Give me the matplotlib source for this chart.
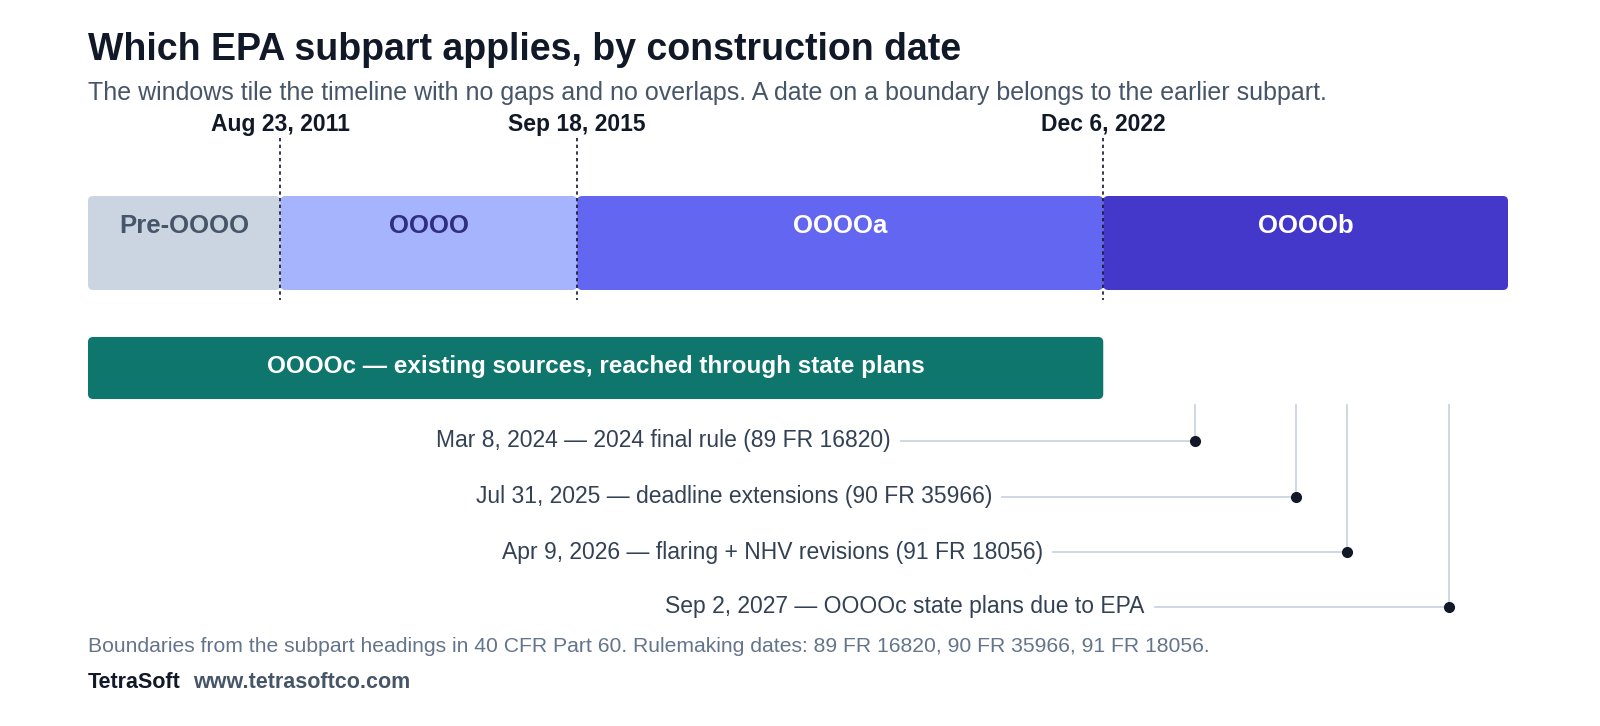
import matplotlib
matplotlib.use("Agg")
import matplotlib.pyplot as plt
import matplotlib.dates as mdates
from matplotlib.patches import FancyBboxPatch
from datetime import date

plt.rcParams['font.family'] = ['Liberation Sans', 'DejaVu Sans']

start = date(2009, 1, 1)
end = date(2028, 6, 25)
boundaries = [date(2011, 8, 23), date(2015, 9, 18), date(2022, 12, 6)]
boundary_labels = ["Aug 23, 2011", "Sep 18, 2015", "Dec 6, 2022"]
subparts = ["Pre-OOOO", "OOOO", "OOOOa", "OOOOb"]
sub_colors = ["#cbd5e1", "#a5b4fc", "#6366f1", "#4338ca"]
sub_text = ["#475569", "#312e81", "white", "white"]
event_dates = [date(2024, 3, 8), date(2025, 7, 31), date(2026, 4, 9), date(2027, 9, 2)]
event_labels = ["Mar 8, 2024 — 2024 final rule (89 FR 16820)",
                "Jul 31, 2025 — deadline extensions (90 FR 35966)",
                "Apr 9, 2026 — flaring + NHV revisions (91 FR 18056)",
                "Sep 2, 2027 — OOOOc state plans due to EPA"]

W, H = 1600, 726
fig = plt.figure(figsize=(16, 7.26), dpi=100)
ax = fig.add_axes([0, 0, 1, 1])
s, e = mdates.date2num(start), mdates.date2num(end)
ppd = (1508 - 88) / (e - s)  # pixels per day
x0 = s - 88 / ppd
ax.set_xlim(x0, x0 + W / ppd)
ax.set_ylim(H, 0)
ax.axis('off')

def box(xa, xb, y0, y1, color):
    r = 5
    ax.add_patch(FancyBboxPatch((xa, y0), xb - xa, y1 - y0,
                 boxstyle=f"round,pad=0,rounding_size={r/ppd}",
                 mutation_aspect=ppd, fc=color, ec='none', lw=0))

edges = [s] + [mdates.date2num(b) for b in boundaries] + [e]
for i, name in enumerate(subparts):
    box(edges[i], edges[i+1], 196, 290, sub_colors[i])
    ax.text((edges[i] + edges[i+1]) / 2, 226, name, ha='center', va='center',
            fontsize=18.5, fontweight='bold', color=sub_text[i])

for b, lab in zip(boundaries, boundary_labels):
    xb = mdates.date2num(b)
    ax.plot([xb, xb], [138, 300], color='#111827', lw=1.2, ls=(0, (2, 2)))
    ax.text(xb, 124, lab, ha='center', va='center', fontsize=16.5,
            fontweight='bold', color='#111827')

box(s, edges[3], 337, 399, "#0f766e")
ax.text((s + edges[3]) / 2, 367, "OOOOc — existing sources, reached through state plans",
        ha='center', va='center', fontsize=17.5, fontweight='bold', color='white')

ys = [441, 497, 552, 607]
for d, lab, y in zip(event_dates, event_labels, ys):
    xd = mdates.date2num(d)
    ax.plot([xd, xd], [405, y], color='#cbd5e1', lw=1.3)
    ax.plot([xd - 294 / ppd, xd], [y, y], color='#cbd5e1', lw=1.3)
    ax.plot([xd], [y], 'o', color='#111827', ms=7)
    ax.text(xd - 304 / ppd, y, lab, ha='right', va='center', fontsize=16.5, color='#334155')

fig.text(88 / W, 1 - 50 / H, "Which EPA subpart applies, by construction date",
         fontsize=27, fontweight='bold', color='#111827', va='center')
fig.text(88 / W, 1 - 93 / H, "The windows tile the timeline with no gaps and no overlaps. "
         "A date on a boundary belongs to the earlier subpart.",
         fontsize=18, color='#475569', va='center')
fig.text(88 / W, 1 - 647 / H, "Boundaries from the subpart headings in 40 CFR Part 60. "
         "Rulemaking dates: 89 FR 16820, 90 FR 35966, 91 FR 18056.",
         fontsize=15.2, color='#64748b', va='center')
fig.text(88 / W, 1 - 683 / H, "TetraSoft", fontsize=15.5, fontweight='bold',
         color='#111827', va='center')
fig.text(193 / W, 1 - 683 / H, "www.tetrasoftco.com", fontsize=15.5, fontweight='bold',
         color='#475569', va='center')

fig.savefig("out.png", dpi=100, facecolor='white')
